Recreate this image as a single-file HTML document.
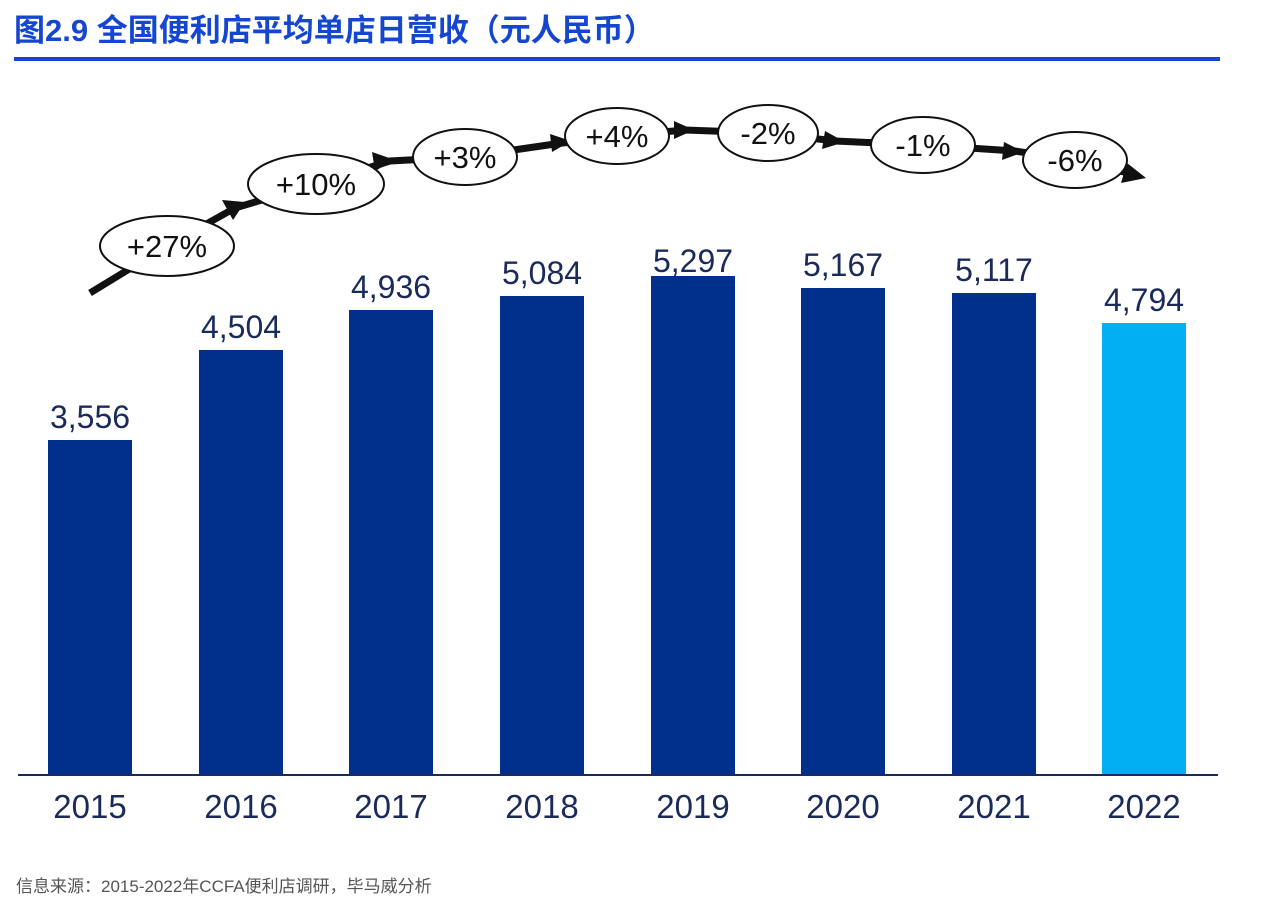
<!DOCTYPE html>
<html><head><meta charset="utf-8"><style>
body{margin:0;background:#fff;width:1284px;height:910px;overflow:hidden}
svg{display:block}
</style></head><body>
<svg width="1284" height="910" viewBox="0 0 1284 910" xmlns="http://www.w3.org/2000/svg">
<text x="14" y="41" font-family="Liberation Sans, Noto Sans CJK SC, sans-serif" font-weight="bold" font-size="31" fill="#1446D0">图2.9 全国便利店平均单店日营收（元人民币）</text>
<rect x="14" y="57" width="1206" height="4" fill="#1446D0"/>
<g fill="#00308C">
<rect x="48" y="440" width="84" height="335"/>
<rect x="199" y="350" width="84" height="425"/>
<rect x="349" y="310" width="84" height="465"/>
<rect x="500" y="296" width="84" height="479"/>
<rect x="651" y="276" width="84" height="499"/>
<rect x="801" y="288" width="84" height="487"/>
<rect x="952" y="293" width="84" height="482"/>
</g>
<rect x="1102" y="323" width="84" height="452" fill="#00B0F0"/>
<rect x="18" y="774" width="1200" height="2" fill="#1A2A5A"/>
<g font-family="Liberation Sans, sans-serif" font-size="32" fill="#1A2A5A" text-anchor="middle">
<text x="90" y="428">3,556</text>
<text x="241" y="338">4,504</text>
<text x="391" y="298">4,936</text>
<text x="542" y="284">5,084</text>
<text x="693" y="272">5,297</text>
<text x="843" y="276">5,167</text>
<text x="994" y="281">5,117</text>
<text x="1144" y="311">4,794</text>
</g>
<g font-family="Liberation Sans, sans-serif" font-size="33" fill="#1A2A5A" text-anchor="middle">
<text x="90" y="818">2015</text><text x="241" y="818">2016</text><text x="391" y="818">2017</text><text x="542" y="818">2018</text>
<text x="693" y="818">2019</text><text x="843" y="818">2020</text><text x="994" y="818">2021</text><text x="1144" y="818">2022</text>
</g>
<polyline points="90,293 167,246 235,208 316,184 390,161 465,157 555,144 617,136 685,130 768,133 835,141 923,145 1015,151 1075,160 1132,174" fill="none" stroke="#111" stroke-width="7"/>
<g fill="#111">
<polygon points="245,202 222,200 233,220"/>
<polygon points="395,160 372,152 375,171"/>
<polygon points="571,141 550,134 552,152"/>
<polygon points="694,130 674,121 674,139"/>
<polygon points="845,142 825,131 822,149"/>
<polygon points="1024,152 1004,142 1002,160"/>
<polygon points="1146,178 1127,163 1121,183"/>
</g>
<g fill="#fff" stroke="#111" stroke-width="2">
<ellipse cx="167" cy="246" rx="67" ry="30"/>
<ellipse cx="316" cy="184" rx="68" ry="30"/>
<ellipse cx="465" cy="157" rx="52" ry="28"/>
<ellipse cx="617" cy="136" rx="52" ry="28"/>
<ellipse cx="768" cy="133" rx="50" ry="28"/>
<ellipse cx="923" cy="145" rx="52" ry="28"/>
<ellipse cx="1075" cy="160" rx="52" ry="28"/>
</g>
<g font-family="Liberation Sans, sans-serif" font-size="31" fill="#111" text-anchor="middle">
<text x="167" y="257">+27%</text>
<text x="316" y="195">+10%</text>
<text x="465" y="168">+3%</text>
<text x="617" y="147">+4%</text>
<text x="768" y="144">-2%</text>
<text x="923" y="156">-1%</text>
<text x="1075" y="171">-6%</text>
</g>
<text x="16" y="892" font-family="Liberation Sans, Noto Sans CJK SC, sans-serif" font-size="17" fill="#555">信息来源：2015-2022年CCFA便利店调研，毕马威分析</text>
</svg>
</body></html>
